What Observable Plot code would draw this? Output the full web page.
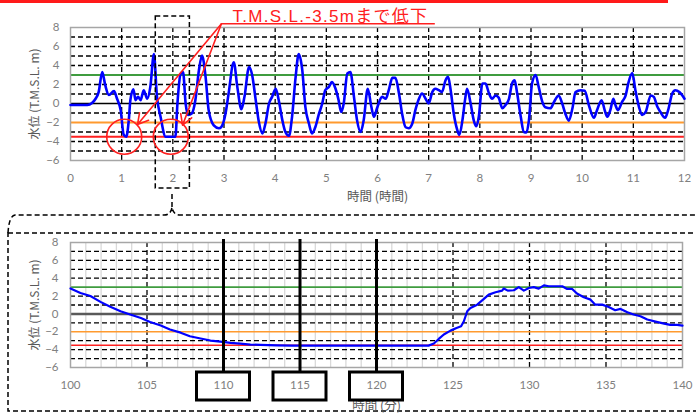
<!DOCTYPE html>
<html>
<head>
<meta charset="utf-8">
<script src="https://cdn.jsdelivr.net/npm/d3@7"></script>
<script src="https://cdn.jsdelivr.net/npm/@observablehq/plot@0.6"></script>
<style>
  html, body { margin: 0; padding: 0; background: #fff; }
  #figure { position: relative; width: 696px; height: 413px; overflow: hidden; background: #fff; }
  #figure > svg { position: absolute; left: 0; }
</style>
</head>
<body>
<div id="figure"></div>
<script>
// ---- 12-hour record: water level (T.M.S.L. m) against elapsed time (hours)
const hours = [0, 0.33, 0.42, 0.49, 0.55, 0.62, 0.68, 0.75, 0.85, 0.91, 0.98, 1.04, 1.09, 1.14, 1.17, 1.23, 1.27, 1.32, 1.37, 1.43, 1.50, 1.56, 1.63, 1.69, 1.76, 1.86, 2.05, 2.09, 2.15, 2.20, 2.25, 2.30, 2.37, 2.44, 2.51, 2.57, 2.64, 2.70, 2.80, 2.90, 2.95, 3.03, 3.09, 3.19, 3.26, 3.34, 3.40, 3.49, 3.55, 3.62, 3.68, 3.75, 3.81, 3.88, 3.94, 4.01, 4.07, 4.14, 4.20, 4.27, 4.33, 4.40, 4.46, 4.53, 4.59, 4.66, 4.72, 4.79, 4.85, 4.92, 4.98, 5.05, 5.11, 5.18, 5.24, 5.29, 5.34, 5.41, 5.47, 5.54, 5.60, 5.67, 5.73, 5.81, 5.88, 5.93, 5.99, 6.09, 6.16, 6.22, 6.29, 6.35, 6.42, 6.48, 6.55, 6.61, 6.68, 6.74, 6.81, 6.87, 6.94, 7.00, 7.07, 7.13, 7.20, 7.26, 7.33, 7.38, 7.43, 7.49, 7.56, 7.60, 7.66, 7.71, 7.75, 7.82, 7.88, 7.93, 7.98, 8.05, 8.11, 8.18, 8.24, 8.31, 8.37, 8.44, 8.50, 8.57, 8.63, 8.68, 8.73, 8.80, 8.86, 8.91, 8.96, 9.02, 9.09, 9.15, 9.22, 9.28, 9.38, 9.45, 9.54, 9.61, 9.67, 9.74, 9.81, 9.87, 9.97, 10.05, 10.13, 10.23, 10.29, 10.38, 10.44, 10.49, 10.55, 10.61, 10.65, 10.70, 10.78, 10.85, 10.90, 10.98, 11.04, 11.11, 11.17, 11.24, 11.34, 11.40, 11.47, 11.53, 11.62, 11.68, 11.76, 11.82, 11.90, 12.00];
const levelByHour = [-0.15, -0.15, 0.05, 0.5, 1.2, 3.3, 1.9, 0.9, 1.3, 0.5, -0.7, -3.3, -3.5, -1.7, 0.35, 1.5, 0.35, 0.7, 0.35, 1.4, 0.5, 1.75, 5.2, 0.7, -1.4, -3.5, -3.5, 0, 3.1, 3.3, 0, -1.2, -1.05, 0.35, 3.5, 5.05, 2.8, -0.7, -2.3, -2.6, -2.45, -1.05, 1.05, 4.35, 1.75, -0.6, 0.7, 3.85, 3.0, 0.35, -1.9, -3.15, -2.1, 0, 0.7, 1.55, 0.35, -1.75, -3.0, -3.4, -1.4, 2.8, 5.2, 3.5, -0.35, -2.1, -3.15, -2.4, -1.2, 0, 1.4, 1.75, 2.25, 1.55, 0.35, -0.9, 0, 3.15, 3.3, 0.7, -1.75, -3.0, -1.75, 1.55, -0.35, -1.4, -0.5, 0.7, 0.5, 1.4, 2.7, 2.7, 1.05, -1.05, -2.5, -2.6, -2.1, -0.7, 0.5, 1.05, 0.5, 0, 1.2, 1.55, 1.4, 1.2, 2.45, 2.8, 1.4, -1.05, -2.8, -3.3, -1.75, 0.35, 1.55, 0, -1.75, -2.4, -1.4, 2.1, 2.1, 1.05, 0.5, 0.85, 0.6, -0.5, -0.17, 0.5, 2.1, 2.45, 1.05, -1.4, -3.0, -3.05, -1.75, 2.1, 3.0, 1.75, 0.2, -0.4, -0.5, 0.17, 0.85, 0, -1.05, -1.8, -0.5, 1.2, 1.4, 1.35, -0.17, -1.5, -0.7, 0.35, -0.7, -1.4, -0.7, 0.5, -0.17, -0.7, 0.17, 0.85, 2.1, 3.2, 1.4, -0.35, -1.2, -0.9, 0.85, 0.7, -0.35, -0.9, -1.5, -0.7, 1.05, 1.4, 1.2, 0.5];

// ---- close-up window: minutes 100-140
const minutes = [100, 100.65, 101.3, 101.96, 102.6, 103.27, 103.9, 104.6, 105.2, 105.9, 106.5, 107.2, 107.8, 108.5, 109.15, 109.8, 110.46, 111.1, 111.76, 112.4, 113.5, 114.5, 123.4, 123.75, 124.07, 124.4, 124.84, 125.23, 125.53, 125.71, 125.93, 126.14, 126.58, 127.02, 127.34, 127.78, 128.21, 128.32, 128.58, 128.98, 129.3, 129.63, 129.96, 130.28, 130.6, 130.94, 131.26, 131.6, 132.14, 132.46, 132.79, 133.1, 133.55, 133.99, 134.3, 134.75, 135.18, 135.6, 135.95, 136.4, 136.8, 137.25, 137.7, 138.24, 138.8, 139.2, 139.65, 140];
const levelByMinute = [2.85, 2.35, 2.0, 1.35, 0.8, 0.3, -0.07, -0.45, -0.9, -1.3, -1.75, -2.1, -2.5, -2.75, -2.98, -3.1, -3.25, -3.32, -3.43, -3.47, -3.52, -3.55, -3.55, -3.32, -2.8, -2.3, -1.87, -1.57, -1.38, -0.82, 0.3, 0.67, 1.04, 1.68, 2.16, 2.43, 2.61, 2.84, 2.61, 2.65, 3.0, 2.61, 2.9, 3.0, 2.84, 3.2, 3.1, 3.1, 3.1, 2.8, 2.8, 2.28, 1.87, 1.6, 1.04, 1.04, 0.78, 0.41, 0.56, 0.19, -0.07, -0.26, -0.63, -0.86, -1.08, -1.23, -1.23, -1.3];

// ---- reference levels (T.M.S.L. m)
const upperLevel = 3;
const warnLevel = -2;
const limitLevel = -3.5;

// ---- axes
const hourTicks = d3.range(0, 13);
const minuteTicks = d3.range(100, 141, 5);
const levelTicks = d3.range(-6, 9, 2);
const dashedLevels = [-5, -4, -3, -1, 1, 2, 4, 5, 6, 7];
const minorMinutes = d3.range(101, 140).filter(m => m % 5 !== 0);
const dashedMinutes = [105, 125, 130, 135];
const markedMinutes = [110, 115, 120];

// ---- annotation: the two drops to the limit level
const focusWindow = [100, 140];                  // minutes, shown in the close-up
const dropCentres = [{t: 1.05, v: -3.5}, {t: 1.96, v: -3.5}];
const noteAnchor = {t: 2.95, v: 8.39};
const noteEnd = 7.13;
const arrowTips = [{t: 1.31, v: -2.2}, {t: 2.19, v: -2.28}];
const noteText = "T.M.S.L.-3.5mまで低下";
const levelLabel = "水位 (T.M.S.L. m)";

const C = {
  blue: "#0000ff", green: "#3f9c3f", orange: "#ff9a2e", red: "#ff2020",
  tick: "#808080", label: "#595959", frame: "#a6a6a6"
};
const latin = "Lato, 'Noto Sans CJK JP', sans-serif";
const cjk = "'Noto Sans CJK JP', Lato, sans-serif";
const dash = "5,3";

const fig = d3.select("#figure");

// ---- callout outline tying the dashed window to the close-up
const deco = fig.append("svg").attr("width", 696).attr("height", 413).style("top", "0px");
deco.append("rect").attr("x", 0).attr("y", 0).attr("width", 668).attr("height", 3).attr("fill", "#ff1a1a");
const outline = g => g.attr("fill", "none").attr("stroke", "#000").attr("stroke-width", 1.5).attr("stroke-dasharray", dash);
deco.append("path").call(outline).attr("d", "M172,194V207");
deco.append("path").call(outline).attr("d", "M8,233Q9,216 15,215H164Q171,215 172,207Q173,215 180,215H700");
deco.append("rect").call(outline).attr("x", 8).attr("y", 233).attr("width", 700).attr("height", 178);

// rotated y-axis title, centred on the frame's left edge
const yTitle = () => Plot.text([levelLabel], {text: d => d, frameAnchor: "left", dx: -35, rotate: -90,
  textAnchor: "middle", lineAnchor: "middle", fill: C.label, fontSize: 12, fontFamily: cjk});

// ---- overview chart
const overview = Plot.plot({
  width: 696, height: 200,
  marginLeft: 70, marginRight: 12, marginTop: 27, marginBottom: 40,
  style: {background: "transparent", overflow: "visible", fontFamily: latin},
  x: {domain: [0, 12]},
  y: {domain: [-6, 8]},
  marks: [
    Plot.ruleY(dashedLevels, {stroke: "#000", strokeWidth: 1.3, strokeDasharray: dash}),
    Plot.ruleX(hourTicks.slice(1, -1), {stroke: "#000", strokeWidth: 1.3, strokeDasharray: dash}),
    Plot.ruleY([0], {stroke: "#000", strokeWidth: 1.5}),
    Plot.ruleY([upperLevel], {stroke: C.green, strokeWidth: 2}),
    Plot.ruleY([warnLevel], {stroke: C.orange, strokeWidth: 2}),
    Plot.ruleY([limitLevel], {stroke: C.red, strokeWidth: 2}),
    Plot.frame({stroke: C.frame, strokeWidth: 1.5}),
    Plot.line(hours, {x: d => d, y: (d, i) => levelByHour[i], stroke: C.blue, strokeWidth: 2.6, curve: "monotone-x"}),
    Plot.rect([focusWindow], {x1: d => d[0] / 60, x2: d => d[1] / 60, y1: -6, y2: 8,
      insetTop: -11, insetBottom: -28, fill: "none", stroke: "#000", strokeWidth: 1.5, strokeDasharray: dash}),
    Plot.dot(dropCentres, {x: "t", y: "v", r: 17.5, stroke: C.red, strokeWidth: 1.6, fill: "none"}),
    Plot.arrow(arrowTips, {x1: noteAnchor.t, y1: noteAnchor.v, x2: "t", y2: "v",
      stroke: C.red, strokeWidth: 1.6, headLength: 11}),
    Plot.ruleY([noteAnchor.v], {x1: noteAnchor.t, x2: noteEnd, stroke: C.red, strokeWidth: 1.6}),
    Plot.text([noteText], {x: noteAnchor.t, y: noteAnchor.v, text: d => d, textAnchor: "start", lineAnchor: "bottom",
      dx: 11, dy: -2, fill: C.red, fontSize: 17, fontFamily: "'Liberation Sans', 'Noto Sans CJK JP', sans-serif"}),
    Plot.axisX({ticks: hourTicks, tickSize: 0, tickPadding: 13, label: null, fill: C.tick, fontSize: 11.5}),
    Plot.axisY({ticks: levelTicks, tickSize: 0, tickPadding: 11, label: null, fill: C.tick, fontSize: 11.5}),
    Plot.text(["時間 (時間)"], {text: d => d, frameAnchor: "bottom", dy: 36, lineAnchor: "middle",
      fill: C.label, fontSize: 12.5, fontFamily: cjk}),
    yTitle()
  ]
});
overview.style.top = "0px";
fig.node().append(overview);
d3.select(overview).selectAll("text").filter(function () { return this.textContent === noteText; })
  .style("letter-spacing", "1.3px");

// ---- close-up chart (minutes)
const closeup = Plot.plot({
  width: 696, height: 213,
  marginLeft: 70, marginRight: 14, marginTop: 42, marginBottom: 46,
  style: {background: "transparent", overflow: "visible", fontFamily: latin},
  x: {domain: focusWindow},
  y: {domain: [-6, 8]},
  marks: [
    Plot.ruleX(minorMinutes, {stroke: "#d9d9d9", strokeWidth: 1.3}),
    Plot.ruleY(dashedLevels, {stroke: "#000", strokeWidth: 1.3, strokeDasharray: dash}),
    Plot.ruleX(dashedMinutes, {stroke: "#000", strokeWidth: 1.3, strokeDasharray: dash}),
    Plot.ruleY([0], {stroke: "#595959", strokeWidth: 2.5}),
    Plot.ruleY([upperLevel], {stroke: C.green, strokeWidth: 1.6}),
    Plot.ruleY([warnLevel], {stroke: C.orange, strokeWidth: 1.6}),
    Plot.ruleY([limitLevel], {stroke: C.red, strokeWidth: 1.6}),
    Plot.frame({stroke: C.frame, strokeWidth: 1.5}),
    Plot.line(minutes, {x: d => d, y: (d, i) => levelByMinute[i], stroke: C.blue, strokeWidth: 2.2}),
    Plot.ruleX(markedMinutes, {stroke: "#000", strokeWidth: 3, insetTop: -3, insetBottom: -5}),
    Plot.text(["時間 (分)"], {text: d => d, frameAnchor: "bottom", dy: 38, lineAnchor: "middle",
      fill: C.label, fontSize: 12.5, fontFamily: cjk}),
    Plot.rect(markedMinutes, {x1: d => d, x2: d => d, y1: -6, y2: -6,
      insetLeft: -26.5, insetRight: -26.5, insetTop: 5, insetBottom: -33, fill: "#fff", stroke: "#000", strokeWidth: 3}),
    Plot.axisX({ticks: minuteTicks, tickSize: 0, tickPadding: 13, label: null, fill: C.tick, fontSize: 11.5}),
    Plot.axisY({ticks: levelTicks, tickSize: 0, tickPadding: 12, label: null, fill: C.tick, fontSize: 11.5}),
    yTitle()
  ]
});
closeup.style.top = "200px";
fig.node().append(closeup);
</script>
</body>
</html>
